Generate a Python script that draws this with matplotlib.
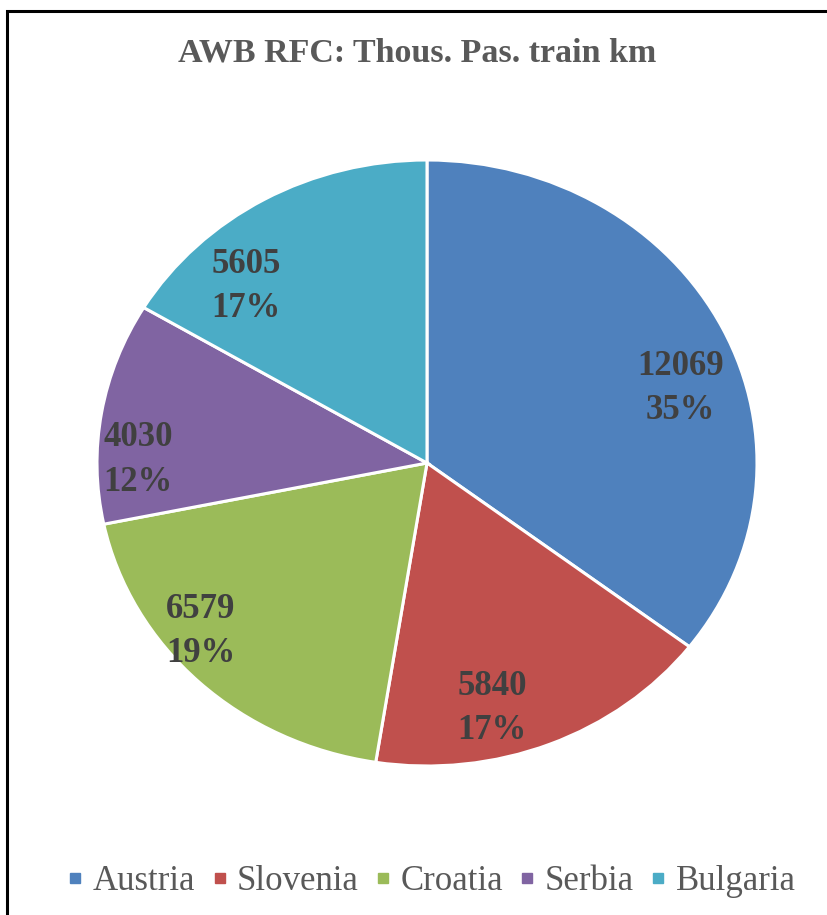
import matplotlib.pyplot as plt
from matplotlib.patches import Rectangle
from matplotlib.lines import Line2D

# data
countries = ["Austria", "Slovenia", "Croatia", "Serbia", "Bulgaria"]
values = [12069, 5840, 6579, 4030, 5605]
pct = [35, 17, 19, 12, 17]
colors = ["#4F81BD", "#C0504D", "#9BBB59", "#8064A2", "#4BACC6"]

# where the data labels sit (pie coords, radius 1)
label_pos = [(0.767, 0.245), (0.197, -0.81), (-0.685, -0.555), (-0.875, 0.01), (-0.548, 0.583)]

plt.rcParams["font.family"] = ["Liberation Serif", "DejaVu Serif"]

fig = plt.figure(figsize=(8.27, 9.15), dpi=100)
ax = fig.add_axes([97 / 827, 1 - 766 / 915, 660 / 827, 606 / 915])

wedges, _ = ax.pie(values, colors=colors, startangle=90, counterclock=False,
                   radius=1, wedgeprops=dict(edgecolor="white", linewidth=2.2))
ax.set_aspect("auto")
ax.set_xlim(-1, 1)
ax.set_ylim(-1, 1)
ax.axis("off")

for (x, y), v, p in zip(label_pos, values, pct):
    ax.text(x, y, f"{v}\n{p}%", ha="center", va="center", fontsize=25,
            fontweight="bold", color="#404040", linespacing=1.45)

fig.text(417 / 827, 1 - 53 / 915, "AWB RFC: Thous. Pas. train km", ha="center",
         va="center", fontsize=24.5, fontweight="bold", color="#595959")

handles = [Line2D([], [], marker="s", linestyle="none", markersize=7.5,
                  markerfacecolor=c, markeredgecolor=c) for c in colors]
fig.legend(handles, countries, loc="center", bbox_to_anchor=(432 / 827, 1 - 882 / 915),
           ncol=5, frameon=False, fontsize=25, labelcolor="#595959",
           handlelength=0.4, handletextpad=0.3, columnspacing=0.5,
           borderpad=0, borderaxespad=0)

# chart border, cut off at right and bottom
fig.patches.append(Rectangle((7 / 827, -0.05), 1.2, 1 - 11 / 915 + 0.05,
                             transform=fig.transFigure, fill=False,
                             edgecolor="black", linewidth=2.2))

fig.savefig("out.png", dpi=100)
